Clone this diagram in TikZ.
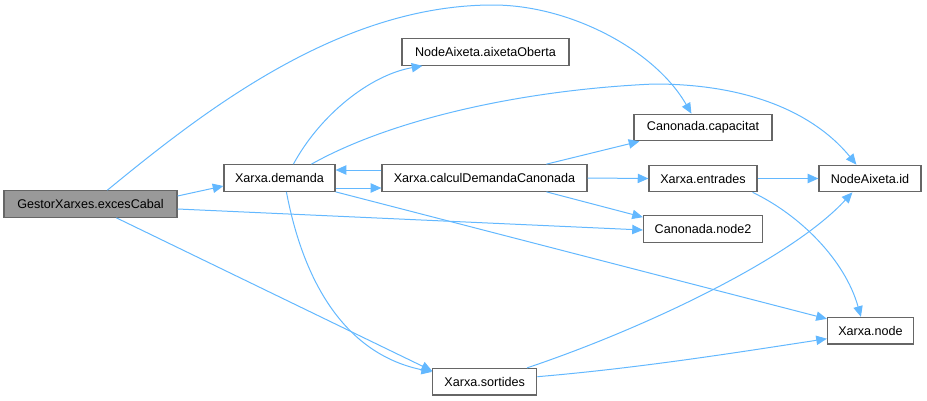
\documentclass[tikz,border=0pt]{standalone}
\usepackage{fontspec}
\setmainfont{Liberation Sans}
\usetikzlibrary{arrows.meta,calc}
\definecolor{edgec}{HTML}{63B8FF}
\definecolor{boxc}{HTML}{666666}
\definecolor{rootc}{HTML}{999999}
\tikzset{
  box/.style={draw=boxc, line width=0.9pt, fill=white, inner sep=0pt, minimum height=26.5*0.75pt,
    font=\fontsize{9.45pt}{11pt}\selectfont, text=black},
  rootbox/.style={box, fill=rootc},
  edge/.style={draw=edgec, line width=0.75pt, -{Triangle[length=8pt,width=7pt]}},
}
\begin{document}
\begin{tikzpicture}[x=0.75pt,y=-0.75pt]
\useasboundingbox (0,0) rectangle (927,400);
\node[rootbox, minimum width=173*0.75pt] (root) at (90.5,204) {GestorXarxes.excesCabal};
\node[box, minimum width=111*0.75pt] (dem) at (279.5,178) {Xarxa.demanda};
\node[box, minimum width=205*0.75pt] (calc) at (484.5,178) {Xarxa.calculDemandaCanonada};
\node[box, minimum width=167*0.75pt] (aix) at (485.5,52) {NodeAixeta.aixetaOberta};
\node[box, minimum width=138*0.75pt] (cap) at (703,127.5) {Canonada.capacitat};
\node[box, minimum width=108*0.75pt] (ent) at (703,178.5) {Xarxa.entrades};
\node[box, minimum width=102*0.75pt] (id) at (870,178.5) {NodeAixeta.id};
\node[box, minimum width=119*0.75pt] (node2) at (703,229) {Canonada.node2};
\node[box, minimum width=86*0.75pt] (xnode) at (870.5,330.7) {Xarxa.node};
\node[box, minimum width=104*0.75pt] (sort) at (484.7,381.7) {Xarxa.sortides};

% root edges
\draw[edge] ($(root.east)+(0,-8)$) -- ($(dem.west)+(0,8)$);
\draw[edge] ($(root.north west)+(104,0)$) .. controls (205,110) and (340,5) .. (493,5)
   .. controls (570,5) and (655,50) .. ($(cap.north west)+(58,0)$);
\draw[edge] ($(root.east)+(0,5)$) -- ($(node2.west)+(0,1)$);
\draw[edge] ($(root.south west)+(113,0)$) -- ($(sort.north west)+(0,3)$);

% demanda edges
\draw[edge] ($(dem.north west)+(70,0)$) .. controls (320,115) and (370,75) .. ($(aix.south west)+(21,0)$);
\draw[edge] ($(dem.north west)+(88,0)$) .. controls (390,120) and (520,90) .. (654,84)
   .. controls (760,84) and (820,120) .. ($(id.north west)+(38,0)$);
\draw[edge] ($(dem.east)+(0,10)$) -- ($(calc.west)+(0,10)$);
\draw[edge] ($(calc.west)+(0,-8)$) -- ($(dem.east)+(0,-8)$);
\draw[edge] (dem.south east) -- ($(xnode.north west)+(0,2)$);
\draw[edge] ($(dem.south west)+(63,0)$) .. controls (305,290) and (350,355) .. ($(sort.north west)+(0,4)$);

% calcul edges
\draw[edge] ($(calc.north west)+(165,0)$) -- ($(cap.south west)+(6,0)$);
\draw[edge] (calc.east) -- (ent.west);
\draw[edge] ($(calc.south west)+(165,0)$) -- ($(node2.north west)+(0,2)$);

% entrades edges
\draw[edge] (ent.east) -- (id.west);
\draw[edge] ($(ent.south east)+(-5,0)$) .. controls (800,215) and (845,260) .. ($(xnode.north west)+(34,0)$);

% sortides edges
\draw[edge] ($(sort.north west)+(95,0)$) .. controls (640,330) and (790,260) .. ($(id.south west)+(34,0)$);
\draw[edge] ($(sort.east)+(0,-5)$) .. controls (640,368) and (740,352) .. ($(xnode.west)+(0,8)$);
\end{tikzpicture}
\end{document}
